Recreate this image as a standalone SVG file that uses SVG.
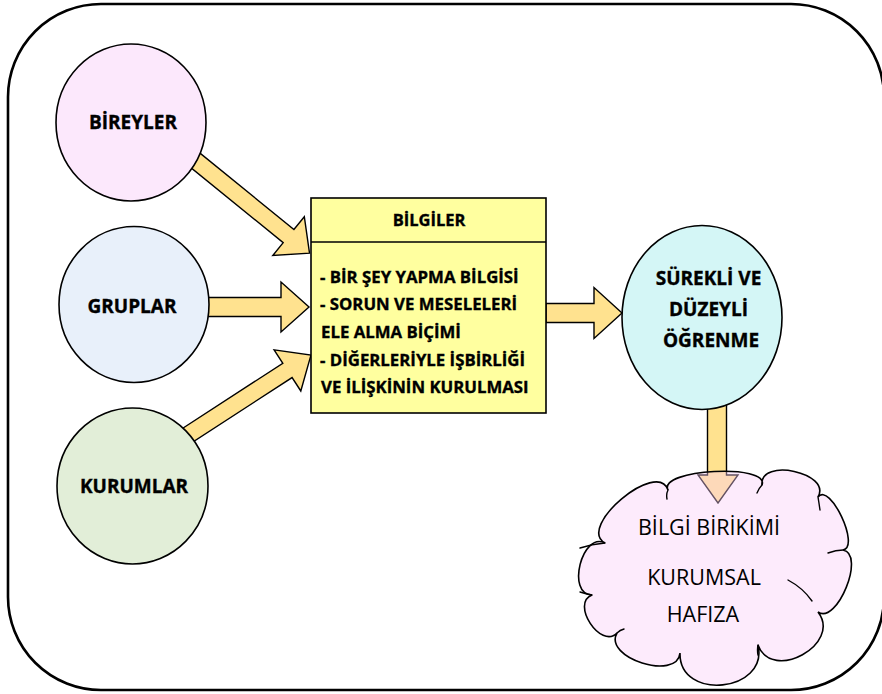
<svg xmlns="http://www.w3.org/2000/svg" width="882" height="694" viewBox="0 0 882 694">
  <defs>
    <style>
      .frame { fill: #ffffff; stroke: #000000; stroke-width: 2.6; }
      .node { stroke: #000000; stroke-width: 1.6; }
      .arrow { fill: #FFE28F; stroke: #000000; stroke-width: 1.4; stroke-linejoin: miter; }
      .lbl { font-family: "Open Sans", "Noto Sans", "DejaVu Sans", sans-serif; font-weight: bold; fill: #000000; stroke: #000000; stroke-width: 0.35; }
      .cloudtxt { font-family: "Open Sans", "Noto Sans", "DejaVu Sans", sans-serif; font-weight: normal; fill: #000000; font-size: 21.5px; }
      .crease { fill: none; stroke: #000000; stroke-width: 1.4; stroke-linecap: round; }
    </style>
  </defs>

  <!-- outer rounded frame -->
  <rect class="frame" x="8" y="4" width="876" height="686" rx="93" ry="93"/>

  <!-- block arrows -->
  <g id="connectors">
    <!-- BIREYLER -> BILGILER -->
    <path class="arrow" transform="translate(190,156) rotate(39.1)" d="M0,-8.5 L127,-8.5 L127,-25 L154,0 L127,25 L127,8.5 L0,8.5 Z"/>
    <!-- GRUPLAR -> BILGILER -->
    <path class="arrow" d="M200,297.5 L281,297.5 L281,282 L309,307 L281,332 L281,316.5 L200,316.5 Z"/>
    <!-- KURUMLAR -> BILGILER -->
    <path class="arrow" transform="translate(184.3,437.4) rotate(-33)" d="M0,-8.5 L123,-8.5 L123,-24.5 L151,0 L123,24.5 L123,8.5 L0,8.5 Z"/>
    <!-- BILGILER -> SUREKLI VE DUZEYLI OGRENME -->
    <path class="arrow" d="M546,303.5 L594,303.5 L594,287.5 L622,313 L594,338.5 L594,322.5 L546,322.5 Z"/>
    <!-- SUREKLI VE DUZEYLI OGRENME -> BILGI BIRIKIMI -->
    <path class="arrow" d="M707.5,395 L707.5,475 L698,475 L718,503 L738,475 L726.5,475 L726.5,395 Z"/>
  </g>

  <g id="bireyler">
    <ellipse class="node" cx="131" cy="122.5" rx="75" ry="78.5" fill="#FCE8FC"/>
    <text class="lbl" x="133" y="129" font-size="19" text-anchor="middle">BİREYLER</text>
  </g>

  <g id="gruplar">
    <ellipse class="node" cx="134" cy="304.5" rx="75" ry="78" fill="#E8F0FA"/>
    <text class="lbl" x="132" y="312.5" font-size="19" text-anchor="middle">GRUPLAR</text>
  </g>

  <g id="kurumlar">
    <ellipse class="node" cx="132.5" cy="486" rx="75.5" ry="78" fill="#E2EED8"/>
    <text class="lbl" x="134" y="493" font-size="19" text-anchor="middle">KURUMLAR</text>
  </g>

  <g id="bilgiler">
    <rect class="node" x="311" y="198" width="235" height="215" fill="#FFFF9F"/>
    <line x1="311" y1="242" x2="546" y2="242" stroke="#000000" stroke-width="1.6"/>
    <text class="lbl" x="429" y="226" font-size="16.5" text-anchor="middle">BİLGİLER</text>
    <text class="lbl" font-size="16.8">
      <tspan x="320" y="283">- BİR ŞEY YAPMA BİLGİSİ</tspan>
      <tspan x="320" y="310">- SORUN VE MESELELERİ</tspan>
      <tspan x="321" y="338">ELE ALMA BİÇİMİ</tspan>
      <tspan x="320" y="366">- DİĞERLERİYLE İŞBİRLİĞİ</tspan>
      <tspan x="321" y="393">VE İLİŞKİNİN KURULMASI</tspan>
    </text>
  </g>

  <g id="surekli-ogrenme">
    <ellipse class="node" cx="702" cy="317.5" rx="80" ry="92" fill="#D4F6F6"/>
    <text class="lbl" font-size="19" text-anchor="middle">
      <tspan x="711" y="285">SÜREKLİ VE</tspan>
      <tspan x="711" y="316">DÜZEYLİ</tspan>
      <tspan x="711" y="347">ÖĞRENME</tspan>
    </text>
  </g>

  <g id="kurumsal-hafiza">
    <!-- cloud outline: a ring of outward lobes, lightly translucent -->
    <path d="M605,543
             C576,527.2 657.4,458.8 668,490
             C657.5,469.2 770.3,463.2 762,485
             C759.2,457.1 832,472.7 818,497
             C829.8,481.6 860.7,547.1 843,550
             C865.9,553.9 837.1,625.1 818,612
             C842.6,644.1 772,682.9 758,645
             C768.9,692.2 678.9,701.4 680,653
             C677.2,681.5 602.8,657.9 617,633
             C600.7,649.7 570.3,603.3 592,595
             C566,594.7 582,531.1 605,543 Z"
          fill="#FACDF8" fill-opacity="0.4" stroke="#000000" stroke-width="1.6"/>
    <!-- inner creases between lobes -->
    <path class="crease" d="M668,490 Q666,494 667,499
                            M762,485 Q759,488 757,493
                            M818,497 Q819,503 820,510
                            M843,550 Q836,550 828,553
                            M788,580 Q803,588 812,601
                            M758,645 Q757,650 758,655
                            M617,633 Q620,630 624,629
                            M592,595 Q586,594 580,592
                            M605,543 Q592,544 580,548"/>
    <text class="cloudtxt" x="709" y="535" text-anchor="middle">BİLGİ BİRİKİMİ</text>
    <text class="cloudtxt" x="704" y="585" text-anchor="middle">KURUMSAL</text>
    <text class="cloudtxt" x="703" y="622" text-anchor="middle">HAFIZA</text>
  </g>
</svg>
